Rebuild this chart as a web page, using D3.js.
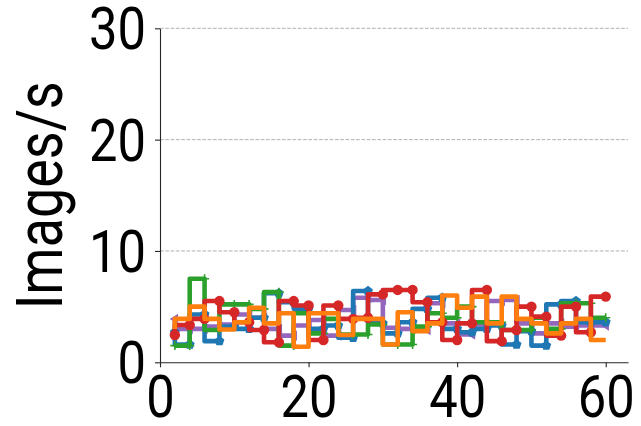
<!DOCTYPE html>
<html>
<head>
<meta charset="utf-8">
<script src="https://cdn.jsdelivr.net/npm/d3@7"></script>
<style>
  html, body { margin: 0; padding: 0; background: #fff; }
  svg { display: block; }
  text { font-family: Roboto, "DejaVu Sans", sans-serif; fill: #000; }
</style>
</head>
<body>
<svg id="chart" width="641" height="426"></svg>
<script>
// Sample positions (seconds) shared by all runs
const steps = [2, 4, 6, 8, 10, 12, 14, 16, 18, 20, 22, 24, 26, 28, 30,
               32, 34, 36, 38, 40, 42, 44, 46, 48, 50, 52, 54, 56, 58, 60];

// Throughput per run (images per second)
const runBlue   = [2.7, 1.6, 4.3, 1.9, 3.2, 3.0, 4.0, 6.2, 5.4, 4.8, 3.0, 3.3, 2.2, 6.4, 3.5,
                   2.6, 3.6, 4.8, 5.8, 3.0, 2.7, 3.0, 3.3, 1.6, 2.8, 1.5, 5.2, 5.5, 3.6, 3.6];
const runOrange = [3.0, 3.9, 5.0, 3.9, 2.95, 3.6, 4.9, 3.5, 4.4, 1.4, 4.4, 4.4, 2.45, 3.9, 3.9,
                   1.6, 4.5, 2.8, 3.5, 6.0, 4.9, 5.9, 3.5, 5.9, 3.9, 3.5, 2.6, 3.5, 3.9, 2.0];
const runGreen  = [1.5, 1.5, 7.5, 2.9, 5.2, 5.2, 4.8, 6.3, 1.5, 4.4, 2.6, 3.9, 2.5, 2.5, 3.4,
                   1.6, 1.6, 3.2, 4.4, 4.0, 5.0, 3.6, 3.6, 2.9, 2.9, 4.0, 3.0, 5.3, 5.3, 4.0];
const runRed    = [2.45, 3.35, 3.9, 5.5, 4.5, 3.6, 2.9, 1.8, 5.5, 5.1, 2.0, 5.1, 3.9, 4.0, 6.1,
                   6.5, 6.5, 5.4, 3.6, 2.0, 3.5, 6.5, 1.9, 2.9, 5.0, 4.1, 2.4, 5.0, 2.7, 5.9];
const runPurple = [3.9, 3.0, 3.0, 3.2, 3.4, 4.3, 4.0, 3.0, 2.4, 3.3, 3.8, 2.4, 4.7, 5.8, 5.6,
                   3.1, 3.0, 2.9, 5.3, 3.5, 2.5, 3.4, 5.5, 5.6, 3.5, 2.6, 3.5, 3.2, 3.3, 3.3];

const xTicks = [0, 20, 40, 60];
const yTicks = [0, 10, 20, 30];
const yTitle = "Images/s";

const svg = d3.select("#chart");
const plotLeft = 160, plotRight = 628, plotTop = 28.3, plotBottom = 362.3;

const x = d3.scaleLinear().domain([0, 63]).range([plotLeft, plotRight]);
const y = d3.scaleLinear().domain([0, 30]).range([plotBottom, plotTop]);

// Dashed horizontal grid
svg.append("g")
  .selectAll("line")
  .data(yTicks.filter(t => t > 0))
  .join("line")
  .attr("x1", plotLeft).attr("x2", plotRight)
  .attr("y1", d => y(d)).attr("y2", d => y(d))
  .attr("stroke", "#b0b0b0")
  .attr("stroke-width", 1)
  .attr("stroke-dasharray", "3.7,1.6");

// Marker shapes
const pentagon = (() => {
  const r = 5.2, pts = [];
  for (let i = 0; i < 5; i++) {
    const a = -Math.PI / 2 + i * 2 * Math.PI / 5;
    pts.push([r * Math.cos(a), r * Math.sin(a)]);
  }
  return "M" + pts.map(p => p.join(",")).join("L") + "Z";
})();
const triLeft = "M-5.2,0L3.2,-5.2L3.2,5.2Z";
const plus = "M-4.5,0H4.5M0,-4.5V4.5";
const circle = d3.symbol(d3.symbolCircle, Math.PI * 5.2 * 5.2)();

const series = [
  { vals: runPurple, color: "#9467bd", marker: triLeft, fill: true },
  { vals: runBlue,   color: "#1f77b4", marker: pentagon, fill: true },
  { vals: runGreen,  color: "#2ca02c", marker: plus, fill: false },
  { vals: runRed,    color: "#d62728", marker: circle, fill: true },
  { vals: runOrange, color: "#ff7f0e", marker: null, fill: true }
];

const line = d3.line()
  .x(d => x(d[0]))
  .y(d => y(d[1]))
  .curve(d3.curveStepBefore);

const plot = svg.append("g");
series.forEach(s => {
  const pts = steps.map((t, i) => [t, s.vals[i]]);
  const g = plot.append("g");
  g.append("path")
    .attr("d", line(pts))
    .attr("fill", "none")
    .attr("stroke", s.color)
    .attr("stroke-width", 4.6)
    .attr("stroke-linejoin", "round")
    .attr("stroke-linecap", "butt");
  if (s.marker) {
    g.selectAll("path.m")
      .data(pts)
      .join("path")
      .attr("class", "m")
      .attr("transform", d => `translate(${x(d[0])},${y(d[1])})`)
      .attr("d", s.marker)
      .attr("fill", s.fill ? s.color : "none")
      .attr("stroke", s.color)
      .attr("stroke-width", s.fill ? 0 : 1.6);
  }
});

// Axes
const fontSize = 60;
const xAxis = svg.append("g")
  .attr("transform", `translate(0,${plotBottom})`)
  .call(d3.axisBottom(x).tickValues(xTicks).tickFormat(d3.format("d"))
        .tickSize(5).tickPadding(7).tickSizeOuter(0));
const yAxis = svg.append("g")
  .attr("transform", `translate(${plotLeft},0)`)
  .call(d3.axisLeft(y).tickValues(yTicks).tickFormat(d3.format("d"))
        .tickSize(5).tickPadding(9).tickSizeOuter(0));

[xAxis, yAxis].forEach(ax => {
  ax.select(".domain").attr("stroke", "#262626").attr("stroke-width", 1.1);
  ax.selectAll(".tick line").attr("stroke", "#262626").attr("stroke-width", 1.1);
  ax.selectAll(".tick text")
    .attr("font-size", fontSize)
    .attr("font-family", "Roboto, 'DejaVu Sans', sans-serif")
    .attr("fill", "#000")
    .attr("textLength", d => String(d).length * 28.5)
    .attr("lengthAdjust", "spacingAndGlyphs");
});
xAxis.selectAll(".tick text").attr("dy", "0.71em");
yAxis.selectAll(".tick text").attr("dy", "0.34em");

// Y axis title
svg.append("text")
  .attr("transform", `translate(62,${(plotTop + plotBottom) / 2}) rotate(-90)`)
  .attr("text-anchor", "middle")
  .attr("font-size", 65)
  .attr("textLength", 228)
  .attr("lengthAdjust", "spacingAndGlyphs")
  .text(yTitle);
</script>
</body>
</html>
